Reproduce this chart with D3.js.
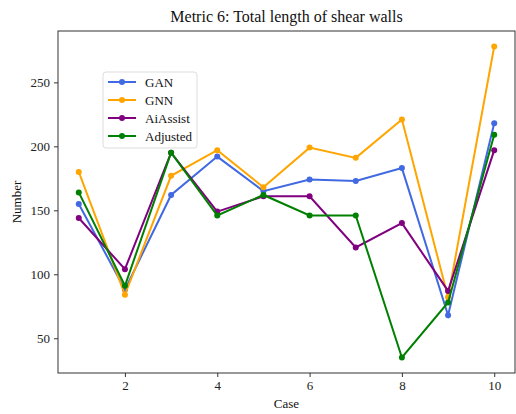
<!DOCTYPE html>
<html><head><meta charset="utf-8">
<script src="https://cdn.jsdelivr.net/npm/d3@7"></script>
<style>body{margin:0;background:#fff;} svg{display:block;font-family:"Liberation Serif","Times New Roman",serif;}</style>
</head><body><svg id="c" width="516" height="414"></svg>
<script>
const cases = [1,2,3,4,5,6,7,8,9,10];
const gan = [155,88,162,192,165,174,173,183,68,218];
const gnn = [180,84,177,197,168,199,191,221,82,278];
const aiAssist = [144,104,195,149,161,161,121,140,87,197];
const adjusted = [164,91,195,146,162,146,146,35,78,209];
const seriesNames = ["GAN","GNN","AiAssist","Adjusted"];
const seriesColors = ["#4169E1","#FFA500","#800080","#008000"];
const xTicks = [2,4,6,8,10];
const yTicks = [50,100,150,200,250];

const series = [gan,gnn,aiAssist,adjusted];
const svg = d3.select("#c");
const L=58,R=515,T=31,B=373;
const all = series.flat();
const ymin=d3.min(all), ymax=d3.max(all), yr=ymax-ymin;
const x = d3.scaleLinear().domain([1-0.45,10+0.45]).range([L,R]);
const y = d3.scaleLinear().domain([ymin-0.05*yr,ymax+0.05*yr]).range([B,T]);

const xa = svg.append("g").attr("transform",`translate(0,${B})`).call(d3.axisBottom(x).tickValues(xTicks).tickSize(4).tickPadding(4).tickFormat(d3.format("d")));
const ya = svg.append("g").attr("transform",`translate(${L},0)`).call(d3.axisLeft(y).tickValues(yTicks).tickSize(4).tickPadding(4).tickFormat(d3.format("d")));
[xa,ya].forEach(a=>{a.selectAll("text").attr("font-size",13).attr("fill","#222").attr("font-family","Liberation Serif, serif");a.select(".domain").remove();a.selectAll("line").attr("stroke","#333");});
svg.append("rect").attr("x",L).attr("y",T).attr("width",R-L).attr("height",B-T).attr("fill","none").attr("stroke","#333").attr("stroke-width",1);

const line = d3.line().x((d,i)=>x(cases[i])).y(d=>y(d));
series.forEach((s,k)=>{
  svg.append("path").datum(s).attr("d",line).attr("fill","none").attr("stroke",seriesColors[k]).attr("stroke-width",2);
  svg.append("g").selectAll("circle").data(s).join("circle").attr("cx",(d,i)=>x(cases[i])).attr("cy",d=>y(d)).attr("r",3).attr("fill",seriesColors[k]);
});

svg.append("text").attr("x",(L+R)/2).attr("y",22).attr("text-anchor","middle").attr("font-size",16).attr("fill","#111").text("Metric 6: Total length of shear walls");
svg.append("text").attr("x",(L+R)/2).attr("y",408).attr("text-anchor","middle").attr("font-size",13).attr("fill","#111").text("Case");
svg.append("text").attr("transform",`translate(21,${(T+B)/2}) rotate(-90)`).attr("text-anchor","middle").attr("font-size",13).attr("fill","#111").text("Number");

const lg = svg.append("g").attr("transform","translate(103,72)");
lg.append("rect").attr("width",94).attr("height",76).attr("rx",3).attr("fill","#fff").attr("fill-opacity",0.8).attr("stroke","#ddd");
seriesNames.forEach((n,i)=>{
  const yy=10+i*18;
  lg.append("line").attr("x1",5).attr("x2",33).attr("y1",yy).attr("y2",yy).attr("stroke",seriesColors[i]).attr("stroke-width",2);
  lg.append("circle").attr("cx",19).attr("cy",yy).attr("r",3).attr("fill",seriesColors[i]);
  lg.append("text").attr("x",42).attr("y",yy+4.5).attr("font-size",13).attr("fill","#111").text(n);
});
</script></body></html>
